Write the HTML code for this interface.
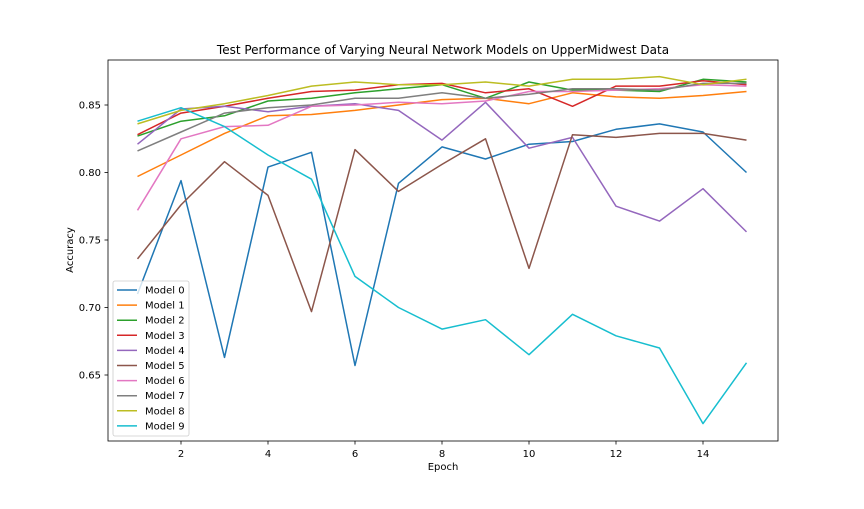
<!DOCTYPE html>
<html><head><meta charset="utf-8"><style>
body{margin:0;background:#fff;font-family:"Liberation Sans","DejaVu Sans",sans-serif}
svg text{font-family:"DejaVu Sans","Liberation Sans",sans-serif}
</style></head><body>
<svg id="chart" width="864" height="504" xmlns="http://www.w3.org/2000/svg">
<rect width="864" height="504" fill="#fff"/>
<text x="443" y="54" font-size="12" text-anchor="middle">Test Performance of Varying Neural Network Models on UpperMidwest Data</text>
<g id="axes"></g>
<g id="lines"></g>
<rect x="108" y="60" width="670" height="381" fill="none" stroke="#000" stroke-width="0.8"/>
<text x="443" y="470" font-size="10" text-anchor="middle">Epoch</text>
<text x="73" y="250" font-size="10" text-anchor="middle" transform="rotate(-90 73 250)">Accuracy</text>
<g id="legend"></g>
</svg>
<script>
const epochs=[1,2,3,4,5,6,7,8,9,10,11,12,13,14,15];
const xTicks=[2,4,6,8,10,12,14];
const yTicks=[0.65,0.70,0.75,0.80,0.85];
const yTickLabels=["0.65","0.70","0.75","0.80","0.85"];
const seriesNames=["Model 0","Model 1","Model 2","Model 3","Model 4","Model 5","Model 6","Model 7","Model 8","Model 9"];
const colors=["#1f77b4","#ff7f0e","#2ca02c","#d62728","#9467bd","#8c564b","#e377c2","#7f7f7f","#bcbd22","#17becf"];
const model0=[0.710,0.794,0.663,0.804,0.815,0.657,0.792,0.819,0.810,0.821,0.823,0.832,0.836,0.830,0.800];
const model1=[0.797,0.813,0.829,0.842,0.843,0.846,0.850,0.854,0.855,0.851,0.859,0.856,0.855,0.857,0.860];
const model2=[0.827,0.838,0.842,0.853,0.855,0.859,0.862,0.865,0.855,0.867,0.861,0.861,0.860,0.869,0.867];
const model3=[0.828,0.844,0.849,0.855,0.860,0.861,0.865,0.866,0.859,0.862,0.849,0.864,0.864,0.868,0.865];
const model4=[0.821,0.847,0.849,0.845,0.849,0.851,0.846,0.824,0.852,0.818,0.826,0.775,0.764,0.788,0.756];
const model5=[0.736,0.776,0.808,0.783,0.697,0.817,0.786,0.806,0.825,0.729,0.828,0.826,0.829,0.829,0.824];
const model6=[0.772,0.825,0.834,0.835,0.849,0.850,0.852,0.851,0.853,0.860,0.860,0.861,0.862,0.865,0.864];
const model7=[0.816,0.830,0.844,0.848,0.850,0.855,0.855,0.859,0.855,0.858,0.862,0.862,0.861,0.866,0.866];
const model8=[0.836,0.846,0.851,0.857,0.864,0.867,0.865,0.865,0.867,0.864,0.869,0.869,0.871,0.865,0.869];
const model9=[0.838,0.848,0.834,0.813,0.795,0.723,0.700,0.684,0.691,0.665,0.695,0.679,0.670,0.614,0.659];
const allSeries=[model0,model1,model2,model3,model4,model5,model6,model7,model8,model9];
const NS="http://www.w3.org/2000/svg";
function xScale(e){return 137.5+(e-1)*43.5;}
function yScale(v){return 105+(0.85-v)*1350;}
function mk(tag,attrs,parent){const el=document.createElementNS(NS,tag);for(const k in attrs)el.setAttribute(k,attrs[k]);parent.appendChild(el);return el;}
const axes=document.getElementById('axes');
xTicks.forEach(t=>{const x=xScale(t);
 const l=mk('line',{x1:x,x2:x,y1:441,y2:444.5,stroke:'#000','stroke-width':0.8},axes);
 
 
 const tx=mk('text',{x:x,y:457,'font-size':10,'text-anchor':'middle'},axes);tx.textContent=t;
 
 
});
yTicks.forEach((t,i)=>{const y=yScale(t);
 const l=mk('line',{x1:104.5,x2:108,y1:y,y2:y,stroke:'#000','stroke-width':0.8},axes);
 
 
 const tx=mk('text',{x:101,y:y+3.5,'font-size':10,'text-anchor':'end'},axes);tx.textContent=yTickLabels[i];
 
 
});
const lines=document.getElementById('lines');
allSeries.forEach((s,i)=>{
 const pts=s.map((v,j)=>xScale(epochs[j]).toFixed(1)+','+yScale(v).toFixed(1)).join(' ');
 const p=mk('polyline',{points:pts,fill:'none',stroke:colors[i],'stroke-width':1.5,'stroke-linejoin':'round'},lines);
 
 
});
const lg=document.getElementById('legend');
const box=mk('rect',{x:113,y:281,width:76,height:155,rx:2,fill:'#fff','fill-opacity':0.8,stroke:'#ccc','stroke-width':0.8},lg);


seriesNames.forEach((n,i)=>{const y=290+i*15.1;
 const l=mk('line',{x1:117,x2:137,y1:y,y2:y,stroke:colors[i],'stroke-width':1.5},lg);
 
 
 const t=mk('text',{x:145,y:y+3.5,'font-size':10},lg);t.textContent=n;
 
 
});
</script>
</body></html>
